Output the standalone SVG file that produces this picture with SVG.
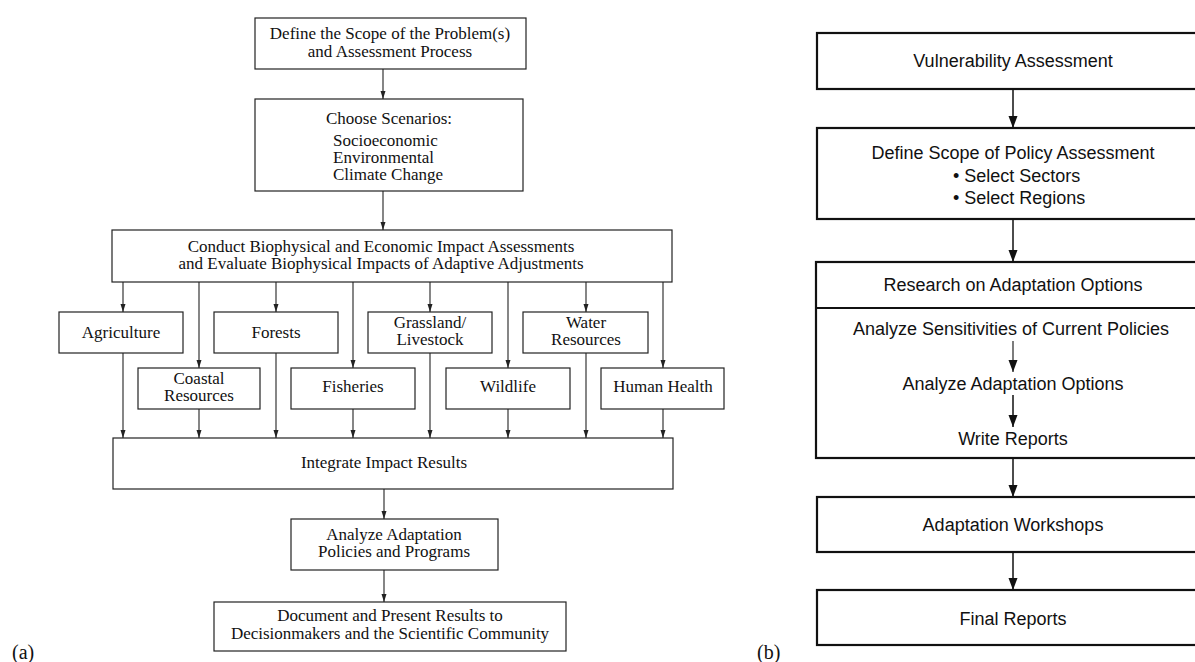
<svg xmlns="http://www.w3.org/2000/svg" width="1195" height="662" viewBox="0 0 1195 662">
<defs>
<style>
.bl{fill:#fff;stroke:#222;stroke-width:1.2}
.br{fill:#fff;stroke:#111;stroke-width:2.2}
.tl{font-family:"Liberation Serif","Times New Roman",serif;font-size:17px;fill:#111;text-anchor:middle}
.tr{font-family:"Liberation Sans",Arial,sans-serif;font-size:18px;fill:#111;text-anchor:middle}
.lab{font-family:"Liberation Serif","Times New Roman",serif;font-size:20px;fill:#111}
.cl{stroke:#222;stroke-width:1.1;fill:none;marker-end:url(#al)}
.cr{stroke:#111;stroke-width:1.5;fill:none;marker-end:url(#ar)}
</style>
<marker id="al" markerUnits="userSpaceOnUse" markerWidth="8" markerHeight="8" viewBox="0 0 8 6" refX="8" refY="3" orient="auto"><path d="M0,0.5 L8,3 L0,5.5 z" fill="#222"/></marker>
<marker id="ar" markerUnits="userSpaceOnUse" markerWidth="12" markerHeight="10" viewBox="0 0 12 10" refX="12" refY="5" orient="auto"><path d="M0,0.5 L12,5 L0,9.5 z" fill="#111"/></marker>
</defs>
<rect width="1195" height="662" fill="#fff"/>

<g id="define-scope-problem">
<rect class="bl" x="255" y="18" width="271" height="51"/>
<text class="tl" x="390" y="39">Define the Scope of the Problem(s)</text>
<text class="tl" x="390" y="57">and Assessment Process</text>
</g>
<g id="choose-scenarios">
<rect class="bl" x="255" y="99" width="268" height="92"/>
<text class="tl" x="389" y="124">Choose Scenarios:</text>
<text class="tl" x="333" y="146" text-anchor="start" style="text-anchor:start">Socioeconomic</text>
<text class="tl" x="333" y="163" style="text-anchor:start">Environmental</text>
<text class="tl" x="333" y="180" style="text-anchor:start">Climate Change</text>
</g>
<g id="conduct-assessments">
<rect class="bl" x="112" y="230" width="560" height="52"/>
<text class="tl" x="381" y="252">Conduct Biophysical and Economic Impact Assessments</text>
<text class="tl" x="381" y="269">and Evaluate Biophysical Impacts of Adaptive Adjustments</text>
</g>
<g id="agriculture">
<rect class="bl" x="59" y="312" width="124" height="41"/>
<text class="tl" x="121" y="338">Agriculture</text>
</g>
<g id="forests">
<rect class="bl" x="214" y="312" width="124" height="41"/>
<text class="tl" x="276" y="338">Forests</text>
</g>
<g id="grassland">
<rect class="bl" x="368" y="312" width="124" height="41"/>
<text class="tl" x="430" y="328">Grassland/</text>
<text class="tl" x="430" y="345">Livestock</text>
</g>
<g id="water">
<rect class="bl" x="523" y="312" width="125" height="41"/>
<text class="tl" x="586" y="328">Water</text>
<text class="tl" x="586" y="345">Resources</text>
</g>
<g id="coastal">
<rect class="bl" x="138" y="368" width="122" height="41"/>
<text class="tl" x="199" y="384">Coastal</text>
<text class="tl" x="199" y="401">Resources</text>
</g>
<g id="fisheries">
<rect class="bl" x="291" y="368" width="124" height="41"/>
<text class="tl" x="353" y="392">Fisheries</text>
</g>
<g id="wildlife">
<rect class="bl" x="446" y="368" width="124" height="41"/>
<text class="tl" x="508" y="392">Wildlife</text>
</g>
<g id="human-health">
<rect class="bl" x="601" y="368" width="123" height="41"/>
<text class="tl" x="663" y="392">Human Health</text>
</g>
<g id="integrate">
<rect class="bl" x="113" y="438" width="560" height="51"/>
<text class="tl" x="384" y="468">Integrate Impact Results</text>
</g>
<g id="analyze-policies">
<rect class="bl" x="291" y="519" width="207" height="51"/>
<text class="tl" x="394" y="540">Analyze Adaptation</text>
<text class="tl" x="394" y="557">Policies and Programs</text>
</g>
<g id="document-results">
<rect class="bl" x="214" y="602" width="352" height="49"/>
<text class="tl" x="390" y="621">Document and Present Results to</text>
<text class="tl" x="390" y="639">Decisionmakers and the Scientific Community</text>
</g>
<text class="lab" x="12" y="659">(a)</text>

<g id="vulnerability">
<rect class="br" x="817" y="33" width="392" height="56"/>
<text class="tr" x="1013" y="67">Vulnerability Assessment</text>
</g>
<g id="define-policy-scope">
<rect class="br" x="817" y="128" width="392" height="91"/>
<text class="tr" x="1013" y="159">Define Scope of Policy Assessment</text>
<text class="tr" x="953" y="182" style="text-anchor:start">• Select Sectors</text>
<text class="tr" x="953" y="204" style="text-anchor:start">• Select Regions</text>
</g>
<g id="research">
<rect class="br" x="816" y="262" width="393" height="196"/>
<line x1="816" y1="308" x2="1209" y2="308" stroke="#111" stroke-width="2.2"/>
<text class="tr" x="1013" y="291">Research on Adaptation Options</text>
<text class="tr" x="1011" y="335">Analyze Sensitivities of Current Policies</text>
<text class="tr" x="1013" y="390">Analyze Adaptation Options</text>
<text class="tr" x="1013" y="445">Write Reports</text>
</g>
<g id="workshops">
<rect class="br" x="817" y="497" width="392" height="55"/>
<text class="tr" x="1013" y="531">Adaptation Workshops</text>
</g>
<g id="final-reports">
<rect class="br" x="817" y="590" width="392" height="55"/>
<text class="tr" x="1013" y="625">Final Reports</text>
</g>
<text class="lab" x="757" y="659">(b)</text>

<g id="connectors">
<line class="cl" x1="383" y1="69" x2="383" y2="99"/>
<line class="cl" x1="383" y1="191" x2="383" y2="230"/>
<line class="cl" x1="123" y1="282" x2="123" y2="312"/>
<line class="cl" x1="199" y1="282" x2="199" y2="368"/>
<line class="cl" x1="276" y1="282" x2="276" y2="312"/>
<line class="cl" x1="353" y1="282" x2="353" y2="368"/>
<line class="cl" x1="430" y1="282" x2="430" y2="312"/>
<line class="cl" x1="508" y1="282" x2="508" y2="368"/>
<line class="cl" x1="586" y1="282" x2="586" y2="312"/>
<line class="cl" x1="663" y1="282" x2="663" y2="368"/>
<line class="cl" x1="123" y1="353" x2="123" y2="438"/>
<line class="cl" x1="199" y1="409" x2="199" y2="438"/>
<line class="cl" x1="276" y1="353" x2="276" y2="438"/>
<line class="cl" x1="353" y1="409" x2="353" y2="438"/>
<line class="cl" x1="430" y1="353" x2="430" y2="438"/>
<line class="cl" x1="508" y1="409" x2="508" y2="438"/>
<line class="cl" x1="586" y1="353" x2="586" y2="438"/>
<line class="cl" x1="663" y1="409" x2="663" y2="438"/>
<line class="cl" x1="384" y1="489" x2="384" y2="519"/>
<line class="cl" x1="384" y1="570" x2="384" y2="602"/>

<line class="cr" x1="1013" y1="89" x2="1013" y2="128"/>
<line class="cr" x1="1013" y1="219" x2="1013" y2="262"/>
<line class="cr" x1="1013" y1="341" x2="1013" y2="372" style="stroke-width:1.1"/>
<line class="cr" x1="1013" y1="395" x2="1013" y2="427"/>
<line class="cr" x1="1013" y1="458" x2="1013" y2="497"/>
<line class="cr" x1="1013" y1="552" x2="1013" y2="590"/>
</g>
</svg>
